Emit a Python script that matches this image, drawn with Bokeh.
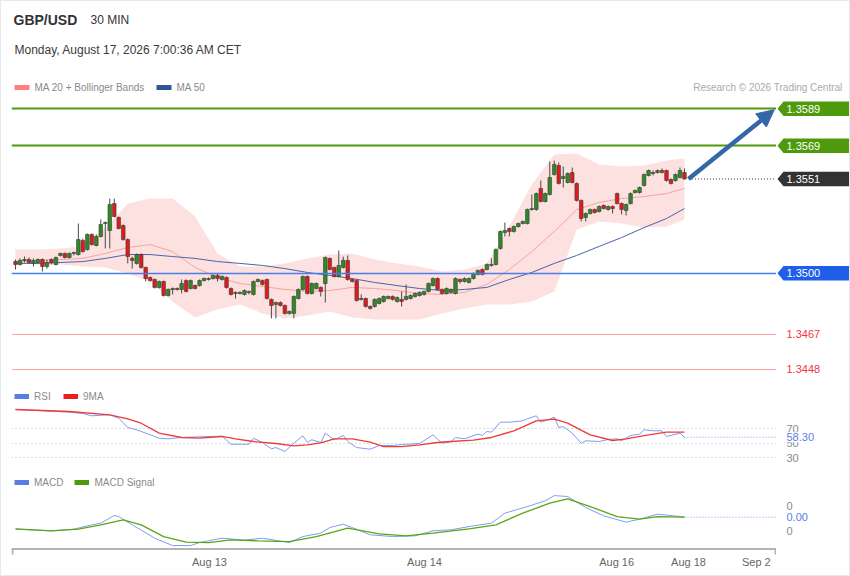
from bokeh.plotting import figure
from bokeh.layouts import column, row
from bokeh.models import (ColumnDataSource, Arrow, NormalHead, Legend, LegendItem,
                          FixedTicker, Range1d)
from bokeh.embed import file_html
from bokeh.resources import INLINE
from bokeh.core.properties import value

# ---------------- data ----------------
symbol = "GBP/USD"
interval = "30 MIN"
timestamp = "Monday, August 17, 2026 7:00:36 AM CET"
credit = "Research \u00a9 2026 Trading Central"

opens = [
    1.35063, 1.35047, 1.35069, 1.35074, 1.35053, 1.35058, 1.35074, 1.35036, 1.35074, 1.35047,
    1.35096, 1.35107, 1.35085, 1.35107, 1.35101, 1.35177, 1.35128, 1.35210, 1.35150, 1.35199,
    1.35269, 1.35231, 1.35377, 1.35302, 1.35258, 1.35182, 1.35080, 1.35053, 1.35101, 1.35031,
    1.34977, 1.34966, 1.34923, 1.34955, 1.34879, 1.34912, 1.34917, 1.34912, 1.34960, 1.34917,
    1.34933, 1.34933, 1.34960, 1.34966, 1.34971, 1.34988, 1.34966, 1.34977, 1.34917, 1.34896,
    1.34890, 1.34885, 1.34901, 1.34885, 1.34955, 1.34960, 1.34966, 1.34858, 1.34831, 1.34841,
    1.34825, 1.34782, 1.34782, 1.34863, 1.34912, 1.34982, 1.34890, 1.34917, 1.34923, 1.34944,
    1.35080, 1.35031, 1.34982, 1.35031, 1.35069, 1.34966, 1.34960, 1.34858, 1.34863, 1.34820,
    1.34820, 1.34836, 1.34847, 1.34863, 1.34874, 1.34847, 1.34858, 1.34858, 1.34863, 1.34874,
    1.34879, 1.34885, 1.34901, 1.34933, 1.34971, 1.34912, 1.34890, 1.34896, 1.34890, 1.34966,
    1.34955, 1.34950, 1.34971, 1.34993, 1.35020, 1.35020, 1.35042, 1.35047, 1.35134, 1.35220,
    1.35242, 1.35226, 1.35253, 1.35269, 1.35269, 1.35345, 1.35345, 1.35459, 1.35388, 1.35426,
    1.35534, 1.35583, 1.35513, 1.35491, 1.35545, 1.35486, 1.35394, 1.35302, 1.35323, 1.35345,
    1.35334, 1.35367, 1.35345, 1.35361, 1.35431, 1.35377, 1.35339, 1.35377, 1.35437, 1.35437,
    1.35475, 1.35529, 1.35540, 1.35545, 1.35556, 1.35556, 1.35507, 1.35502, 1.35518, 1.35545,
]
highs = [
    1.35074, 1.35080, 1.35090, 1.35085, 1.35080, 1.35080, 1.35080, 1.35074, 1.35080, 1.35090,
    1.35112, 1.35112, 1.35112, 1.35117, 1.35269, 1.35188, 1.35215, 1.35215, 1.35210, 1.35291,
    1.35280, 1.35404, 1.35404, 1.35307, 1.35264, 1.35188, 1.35090, 1.35107, 1.35107, 1.35036,
    1.34982, 1.34971, 1.34960, 1.34960, 1.34917, 1.34923, 1.34923, 1.34966, 1.34966, 1.34966,
    1.34939, 1.34966, 1.34977, 1.34977, 1.34993, 1.34998, 1.34988, 1.34982, 1.34923, 1.34901,
    1.34901, 1.34912, 1.34906, 1.34960, 1.34971, 1.34966, 1.34971, 1.34863, 1.34847, 1.34847,
    1.34831, 1.34798, 1.34879, 1.34917, 1.34988, 1.34988, 1.34950, 1.34950, 1.34928, 1.35090,
    1.35085, 1.35036, 1.35123, 1.35090, 1.35096, 1.34971, 1.34966, 1.34885, 1.34868, 1.34825,
    1.34863, 1.34868, 1.34879, 1.34879, 1.34879, 1.34874, 1.34901, 1.34939, 1.34885, 1.34896,
    1.34901, 1.34906, 1.34950, 1.34977, 1.34977, 1.34917, 1.34923, 1.34917, 1.34977, 1.34971,
    1.34977, 1.34977, 1.35004, 1.35020, 1.35025, 1.35053, 1.35080, 1.35134, 1.35231, 1.35274,
    1.35247, 1.35258, 1.35274, 1.35285, 1.35350, 1.35426, 1.35437, 1.35502, 1.35437, 1.35605,
    1.35610, 1.35599, 1.35578, 1.35545, 1.35572, 1.35491, 1.35399, 1.35329, 1.35350, 1.35350,
    1.35367, 1.35372, 1.35367, 1.35367, 1.35437, 1.35383, 1.35377, 1.35437, 1.35453, 1.35469,
    1.35540, 1.35561, 1.35556, 1.35561, 1.35567, 1.35561, 1.35513, 1.35540, 1.35572, 1.35567,
]
lows = [
    1.35020, 1.35042, 1.35058, 1.35053, 1.35036, 1.35053, 1.35009, 1.35025, 1.35047, 1.35042,
    1.35090, 1.35080, 1.35080, 1.35096, 1.35096, 1.35112, 1.35123, 1.35150, 1.35145, 1.35193,
    1.35134, 1.35134, 1.35302, 1.35237, 1.35177, 1.35053, 1.35025, 1.35047, 1.35025, 1.34955,
    1.34955, 1.34917, 1.34917, 1.34874, 1.34874, 1.34885, 1.34906, 1.34890, 1.34896, 1.34912,
    1.34912, 1.34928, 1.34955, 1.34960, 1.34966, 1.34955, 1.34960, 1.34917, 1.34879, 1.34863,
    1.34885, 1.34879, 1.34885, 1.34879, 1.34950, 1.34933, 1.34858, 1.34755, 1.34755, 1.34820,
    1.34776, 1.34776, 1.34755, 1.34858, 1.34906, 1.34885, 1.34885, 1.34912, 1.34874, 1.34841,
    1.35015, 1.34977, 1.34977, 1.35025, 1.34960, 1.34950, 1.34847, 1.34852, 1.34814, 1.34803,
    1.34814, 1.34831, 1.34841, 1.34858, 1.34852, 1.34841, 1.34820, 1.34852, 1.34858, 1.34868,
    1.34874, 1.34879, 1.34896, 1.34928, 1.34906, 1.34885, 1.34885, 1.34890, 1.34885, 1.34944,
    1.34950, 1.34944, 1.34966, 1.34988, 1.34988, 1.35015, 1.35036, 1.35042, 1.35128, 1.35199,
    1.35199, 1.35220, 1.35247, 1.35264, 1.35264, 1.35339, 1.35339, 1.35383, 1.35383, 1.35421,
    1.35529, 1.35480, 1.35464, 1.35486, 1.35486, 1.35388, 1.35280, 1.35280, 1.35318, 1.35323,
    1.35329, 1.35345, 1.35339, 1.35323, 1.35372, 1.35318, 1.35312, 1.35372, 1.35431, 1.35431,
    1.35469, 1.35524, 1.35529, 1.35540, 1.35540, 1.35496, 1.35480, 1.35496, 1.35513, 1.35507,
]
closes = [
    1.35047, 1.35069, 1.35074, 1.35058, 1.35069, 1.35074, 1.35036, 1.35058, 1.35058, 1.35085,
    1.35107, 1.35085, 1.35107, 1.35112, 1.35182, 1.35117, 1.35210, 1.35155, 1.35199, 1.35264,
    1.35274, 1.35372, 1.35307, 1.35242, 1.35182, 1.35090, 1.35069, 1.35101, 1.35031, 1.34971,
    1.34960, 1.34923, 1.34955, 1.34879, 1.34912, 1.34917, 1.34912, 1.34944, 1.34901, 1.34960,
    1.34917, 1.34960, 1.34971, 1.34971, 1.34988, 1.34971, 1.34982, 1.34923, 1.34885, 1.34890,
    1.34896, 1.34906, 1.34896, 1.34955, 1.34966, 1.34939, 1.34863, 1.34825, 1.34841, 1.34825,
    1.34782, 1.34793, 1.34874, 1.34912, 1.34982, 1.34890, 1.34944, 1.34944, 1.34901, 1.35085,
    1.35020, 1.34982, 1.35042, 1.35069, 1.34966, 1.34955, 1.34852, 1.34863, 1.34820, 1.34809,
    1.34858, 1.34863, 1.34874, 1.34874, 1.34858, 1.34868, 1.34847, 1.34874, 1.34879, 1.34890,
    1.34896, 1.34901, 1.34944, 1.34971, 1.34912, 1.34890, 1.34917, 1.34912, 1.34971, 1.34955,
    1.34971, 1.34971, 1.34998, 1.35015, 1.34993, 1.35047, 1.35047, 1.35128, 1.35226, 1.35231,
    1.35226, 1.35253, 1.35269, 1.35280, 1.35345, 1.35350, 1.35431, 1.35388, 1.35431, 1.35518,
    1.35589, 1.35486, 1.35524, 1.35540, 1.35491, 1.35394, 1.35296, 1.35323, 1.35345, 1.35329,
    1.35361, 1.35350, 1.35361, 1.35350, 1.35377, 1.35345, 1.35372, 1.35431, 1.35448, 1.35464,
    1.35534, 1.35556, 1.35545, 1.35556, 1.35545, 1.35502, 1.35486, 1.35534, 1.35556, 1.35510,
]

# Bollinger bands / moving averages, read at every 5th candle
band_idx = [0, 5, 10, 15, 20, 25, 30, 35, 40, 45, 50, 55, 60, 65, 70, 75, 80, 85, 90, 95,
            100, 105, 110, 115, 120, 125, 130, 135, 140, 145, 149]
bb_upper = [1.35128, 1.35128, 1.35134, 1.35145, 1.35242, 1.35377, 1.35404, 1.35404, 1.35307, 1.35107,
            1.35036, 1.35036, 1.35053, 1.35080, 1.35101, 1.35107, 1.35074, 1.35053, 1.35036, 1.35009,
            1.35020, 1.35053, 1.35253, 1.35480, 1.35643, 1.35648, 1.35589, 1.35578, 1.35583, 1.35610,
            1.35621]
bb_lower = [1.35053, 1.35047, 1.35047, 1.35036, 1.35031, 1.34998, 1.34955, 1.34847, 1.34760, 1.34803,
            1.34831, 1.34782, 1.34755, 1.34771, 1.34793, 1.34760, 1.34749, 1.34749, 1.34749, 1.34782,
            1.34809, 1.34831, 1.34831, 1.34847, 1.34901, 1.35237, 1.35280, 1.35269, 1.35247, 1.35253,
            1.35291]
ma20 = [1.35063, 1.35069, 1.35074, 1.35080, 1.35107, 1.35139, 1.35155, 1.35117, 1.35031, 1.34977,
        1.34944, 1.34928, 1.34912, 1.34901, 1.34906, 1.34923, 1.34917, 1.34906, 1.34890, 1.34885,
        1.34896, 1.34939, 1.35020, 1.35117, 1.35226, 1.35344, 1.35383, 1.35404, 1.35415, 1.35431,
        1.35459]
ma50 = [1.35053, 1.35053, 1.35058, 1.35063, 1.35080, 1.35101, 1.35101, 1.35090, 1.35080, 1.35063,
        1.35053, 1.35042, 1.35025, 1.35004, 1.34988, 1.34971, 1.34950, 1.34933, 1.34917, 1.34906,
        1.34912, 1.34923, 1.34966, 1.35004, 1.35053, 1.35096, 1.35145, 1.35193, 1.35247, 1.35296,
        1.35350]

resistances = [1.3589, 1.3569]
pivot = 1.3500
supports = [1.3467, 1.3448]
last_price = 1.3551
target_from = (149.9, 1.3551)
target_to = (169.0, 1.35885)

rsi_idx = [0, 6, 12, 15, 17, 21, 23, 25, 27, 30, 32, 34, 37, 41, 46, 48, 52, 53, 55, 57,
           58, 60, 62, 64, 65, 66, 68, 69, 71, 73, 74, 76, 79, 81, 84, 87, 90, 93, 95, 97,
           98, 100, 103, 104, 105, 106, 108, 110, 113, 114, 116, 117, 118, 120, 121, 122, 124, 126, 127, 130,
           132, 134, 135, 137, 139, 140, 142, 144, 145, 148, 149]
rsi_val = [96.9, 95.1, 93.1, 91.3, 88.1, 89.5, 84.8, 71.8, 68.6, 61.6, 56.9, 56.1, 57.9, 58.9, 59.7, 48.5, 48.5, 56.9, 50.9, 42.1,
           43.9, 38.4, 49.9, 60.2, 51.3, 54.7, 50.9, 63.9, 54.7, 60.7, 52.3, 43.9, 41.6, 46.7, 46.7, 48.5, 49.5, 61.6, 49.9, 52.3,
           57.9, 56.1, 62.5, 60.7, 66.2, 65.3, 79.2, 79.2, 81.1, 83.9, 88.1, 79.2, 81.1, 86.2, 71.8, 73.2, 63.9, 49.9, 53.3, 52.3,
           55.1, 56.1, 53.3, 60.7, 62.5, 68.6, 67.2, 67.2, 59.3, 63.9, 58.3]
rsi_ma_idx = [0, 12, 21, 25, 28, 32, 37, 41, 46, 49, 53, 58, 62, 65, 68, 71, 75, 79, 82, 86,
              90, 94, 97, 102, 106, 111, 116, 120, 123, 128, 133, 136, 141, 145, 149]
rsi_ma_val = [96.9, 94.1, 89.5, 83.9, 77.8, 63.9, 57.9, 56.9, 59.3, 56.1, 52.3, 49.5, 46.3, 47.7, 50.5, 56.1, 56.1, 51.3, 45.3, 45.3,
              47.7, 50.9, 52.3, 54.1, 57.9, 67.2, 81.1, 83.4, 77.8, 61.6, 53.7, 56.1, 61.6, 65.3, 65.3]
rsi_levels = [70, 50, 30]
rsi_last = 58.30

macd_idx = [0, 8, 13, 17, 19, 22, 23, 26, 31, 35, 39, 41, 46, 51, 55, 61, 64, 68, 70, 73,
            75, 79, 84, 89, 93, 97, 102, 106, 109, 114, 118, 120, 123, 127, 131, 136, 139, 143, 148, 149]
macd_val = [-0.00087, -0.00100, -0.00087, -0.00052, -0.00039, 0.00022, 0.00014, -0.00052, -0.00159, -0.00218,
            -0.00218, -0.00194, -0.00159, -0.00175, -0.00159, -0.00194, -0.00146, -0.00119, -0.00074, -0.00047,
            -0.00074, -0.00132, -0.00146, -0.00140, -0.00100, -0.00092, -0.00060, -0.00039, 0.00041, 0.00094,
            0.00140, 0.00182, 0.00174, 0.00086, 0.00020, -0.00031, -0.00007, 0.00033, 0.00014, 0.00009]
signal_idx = [0, 8, 14, 19, 24, 28, 33, 38, 43, 48, 54, 61, 67, 74, 81, 87, 93, 101, 107, 113,
              119, 123, 128, 134, 139, 143, 149]
signal_val = [-0.00084, -0.00100, -0.00087, -0.00052, -0.00012, -0.00052, -0.00146, -0.00191, -0.00194, -0.00172,
              -0.00180, -0.00186, -0.00146, -0.00079, -0.00124, -0.00140, -0.00119, -0.00084, -0.00052, 0.00041,
              0.00121, 0.00156, 0.00094, 0.00014, -0.00007, 0.00014, 0.00009]
macd_ticks = [0.001, -0.001]
macd_tick_labels = ["0", "0"]
macd_last_label = "0.00"

tick_idx = [43.2, 91.1, 133.9, 149.9, 165.0]
tick_labels = ["Aug 13", "Aug 14", "Aug 16", "Aug 18", "Sep 2"]

# ---------------- styling / layout ----------------
FONT = "Liberation Sans"
W = 848
PLOT_W = 775
LBL_W = W - PLOT_W
HEAD_H, PRICE_H, RSI_H, MACD_H = 96, 284, 90, 104
X0, X1 = -0.89, 169.5
PRICE_LO, PRICE_HI = 1.344136, 1.359513
MACD_LO, MACD_HI = -0.002976, 0.003584      # MACD frame spans y 472..554 px
MACD_FRAME_H = 82
MACD_AXIS_Y = MACD_LO + 6.5 * (MACD_HI - MACD_LO) / MACD_FRAME_H
MACD_CAP_Y = MACD_LO + 1.0 * (MACD_HI - MACD_LO) / MACD_FRAME_H
PX = (X1 - X0) / (PLOT_W - 10)              # one pixel in index units

UP, DOWN = "#2e8a26", "#e01b1b"
GREEN = "#4e9a0c"
BLUE_BOX = "#1f5ee8"
BLUE_LINE = "#4a7ee8"
SUP_LINE, SUP_TXT = "#ffa3a3", "#f0383c"
DARK_BOX = "#333333"
ARROW_C = "#3566a8"
RSI_C, RSI_MA_C = "#7e9def", "#f03a3a"
MACD_C, SIG_C = "#7e9def", "#5aa616"
GRAY_TXT = "#8a8a8a"
AXIS_C = "#b4b4b4"
NAN = float("nan")


def base_fig(w, h, xr, yr, **kw):
    f = figure(width=w, height=h, x_range=xr, y_range=yr, toolbar_location=None,
               output_backend="svg", x_axis_type=None, y_axis_type=None,
               min_border_left=kw.pop("mbl", 0), min_border_right=0,
               min_border_top=kw.pop("mbt", 0), min_border_bottom=kw.pop("mbb", 0), **kw)
    f.outline_line_color = None
    f.background_fill_color = "white"
    f.border_fill_color = "white"
    return f


def txt(f, x, y, s, color, size, align="left", style="normal"):
    f.text(x=[x], y=[y], text=[s], text_color=color, text_font=value(FONT),
           text_font_size=size, text_align=align, text_baseline="middle",
           text_font_style=style)


def legend_for(items, loc, spacing):
    return Legend(items=items, orientation="horizontal", location=loc,
                  background_fill_alpha=0, border_line_color=None, padding=0, margin=0,
                  spacing=spacing, glyph_width=15, glyph_height=12, label_standoff=5,
                  label_height=12, label_text_font_size="10px", label_text_color=GRAY_TXT,
                  label_text_font=FONT)


# ---------- header ----------
head = base_fig(W, HEAD_H, Range1d(0, W), Range1d(HEAD_H, 0))
txt(head, 12, 18, symbol, "#333333", "14px", style="bold")
txt(head, 89, 18, interval, "#333333", "12px")
txt(head, 13, 48, timestamp, "#3a3a3a", "12px")
head.quad(left=[13], right=[28], top=[83.5], bottom=[88.5], fill_color="#ff7f7f", line_color=None)
txt(head, 33, 86, "MA 20 + Bollinger Bands", GRAY_TXT, "10px")
head.quad(left=[155], right=[170], top=[83.5], bottom=[88.5], fill_color="#2f5597", line_color=None)
txt(head, 175, 86, "MA 50", GRAY_TXT, "10px")
txt(head, 841, 86, credit, "#aaaaaa", "10px", align="right")

# ---------- price panel ----------
xr = Range1d(X0, X1)
price = base_fig(PLOT_W, PRICE_H, xr, Range1d(PRICE_LO, PRICE_HI), mbl=10)
price.varea(x=band_idx, y1=bb_lower, y2=bb_upper, fill_color="#fde0e0")
price.hspan(y=resistances, line_color=GREEN, line_width=2)
price.hspan(y=supports, line_color=SUP_LINE, line_width=1)
price.line(band_idx, ma20, line_color="#f7a3a3", line_width=1)
price.line(band_idx, ma50, line_color="#4766a8", line_width=1)

idx = list(range(len(closes)))
src = ColumnDataSource(dict(
    x=idx, o=opens, h=highs, l=lows, c=closes,
    top=[max(o, c) for o, c in zip(opens, closes)],
    bot=[min(o, c) for o, c in zip(opens, closes)],
    col=[UP if c >= o else DOWN for o, c in zip(opens, closes)],
))
price.segment(x0="x", y0="l", x1="x", y1="h", source=src, line_color="#4a4a4a", line_width=1)
price.vbar(x="x", width=0.8, top="top", bottom="bot", source=src,
           fill_color="col", line_color="#3a3a3a", line_width=0.6)
price.hspan(y=[pivot], line_color=BLUE_LINE, line_width=1.5)
price.segment(x0=[idx[-1] + 1], y0=[last_price], x1=[X1], y1=[last_price],
              line_color="#333333", line_dash="1 2", line_width=1)
price.add_layout(Arrow(end=NormalHead(size=17, fill_color=ARROW_C, line_color=ARROW_C),
                       x_start=target_from[0], y_start=target_from[1],
                       x_end=target_to[0], y_end=target_to[1],
                       line_color=ARROW_C, line_width=4.5))

# price labels column
plbl = base_fig(LBL_W, PRICE_H, Range1d(0, LBL_W), price.y_range)
hh = 7.3 * (PRICE_HI - PRICE_LO) / PRICE_H
boxes = [(resistances[0], GREEN), (resistances[1], GREEN), (last_price, DARK_BOX), (pivot, BLUE_BOX)]
for lvl, colr in boxes:
    plbl.patch(x=[1, 7, LBL_W, LBL_W, 7], y=[lvl, lvl + hh, lvl + hh, lvl - hh, lvl - hh],
               fill_color=colr, line_color=None)
    txt(plbl, 10, lvl, f"{lvl:.4f}", "white", "11px")
for lvl in supports:
    txt(plbl, 10, lvl, f"{lvl:.4f}", SUP_TXT, "11px")

# ---------- RSI panel ----------
rsi = base_fig(PLOT_W, RSI_H, xr, Range1d(16.1, 131.7), mbl=10, mbt=3, mbb=4)
rsi.hspan(y=rsi_levels, line_color="#b8b8b8", line_dash="1 3", line_width=1)
rsi.line(rsi_idx, rsi_val, line_color=RSI_C, line_width=1)
rsi.line(rsi_ma_idx, rsi_ma_val, line_color=RSI_MA_C, line_width=1.3)
rsi.segment(x0=[rsi_idx[-1]], y0=[rsi_last], x1=[X1], y1=[rsi_last],
            line_color=RSI_C, line_dash="1 2", line_width=1)
d1 = rsi.line(x=[NAN], y=[NAN], line_color="#5b7ee6", line_width=5)
d2 = rsi.line(x=[NAN], y=[NAN], line_color="#ee1c1c", line_width=5)
rsi.add_layout(legend_for([LegendItem(label="RSI", renderers=[d1]),
                           LegendItem(label="9MA", renderers=[d2])], (3, 65), 9))

rlbl = base_fig(LBL_W, RSI_H, Range1d(0, LBL_W), rsi.y_range, mbt=3, mbb=4)
for lv in rsi_levels:
    txt(rlbl, 10, lv, str(lv), GRAY_TXT, "11px")
rlbl.quad(left=[8], right=[50], bottom=[rsi_last - 7.0], top=[rsi_last + 7.0],
          fill_color="white", line_color=None)
txt(rlbl, 10, rsi_last, f"{rsi_last:.2f}", "#5b7ee6", "11px")

# ---------- MACD panel ----------
macd = figure(width=PLOT_W, height=MACD_H, x_range=xr, y_range=Range1d(MACD_LO, MACD_HI),
              toolbar_location=None, output_backend="svg", y_axis_type=None,
              min_border_left=10, min_border_right=0, min_border_top=2, min_border_bottom=20)
macd.outline_line_color = None
macd.grid.visible = False
ax = macd.xaxis[0]
ax.ticker = FixedTicker(ticks=tick_idx)
ax.major_label_overrides = {t: s for t, s in zip(tick_idx, tick_labels)}
ax.major_tick_in = 0
ax.major_tick_out = 0
ax.minor_tick_line_color = None
ax.axis_line_color = None
ax.major_label_standoff = 0
ax.major_label_text_font = FONT
ax.major_label_text_font_size = "11px"
ax.major_label_text_color = "#666666"

# drawn axis baseline with end caps
macd.segment(x0=[X0], y0=[MACD_AXIS_Y], x1=[X1], y1=[MACD_AXIS_Y], line_color=AXIS_C, line_width=2)
macd.segment(x0=[X0 + PX, X1 - PX], y0=[MACD_AXIS_Y] * 2, x1=[X0 + PX, X1 - PX], y1=[MACD_CAP_Y] * 2,
             line_color=AXIS_C, line_width=2)

macd.line(macd_idx, macd_val, line_color=MACD_C, line_width=1)
macd.line(signal_idx, signal_val, line_color=SIG_C, line_width=1.3)
macd.segment(x0=[macd_idx[-1]], y0=[macd_val[-1]], x1=[X1], y1=[macd_val[-1]],
             line_color=MACD_C, line_dash="1 2", line_width=1)
d3 = macd.line(x=[NAN], y=[NAN], line_color="#5b7ee6", line_width=5)
d4 = macd.line(x=[NAN], y=[NAN], line_color=GREEN, line_width=5)
macd.add_layout(legend_for([LegendItem(label="MACD", renderers=[d3]),
                            LegendItem(label="MACD Signal", renderers=[d4])], (3, 67), 11))

mlbl = base_fig(LBL_W, MACD_H, Range1d(0, LBL_W), macd.y_range, mbt=2, mbb=20)
for tv, tl in zip(macd_ticks, macd_tick_labels):
    txt(mlbl, 10, tv, tl, GRAY_TXT, "11px")
txt(mlbl, 10, macd_val[-1], macd_last_label, "#5b7ee6", "11px")

layout = column(head, row(price, plbl), row(rsi, rlbl), row(macd, mlbl),
                styles={"border": "1px solid #e6eaef"})
open("out.html", "w").write(file_html(layout, INLINE))
